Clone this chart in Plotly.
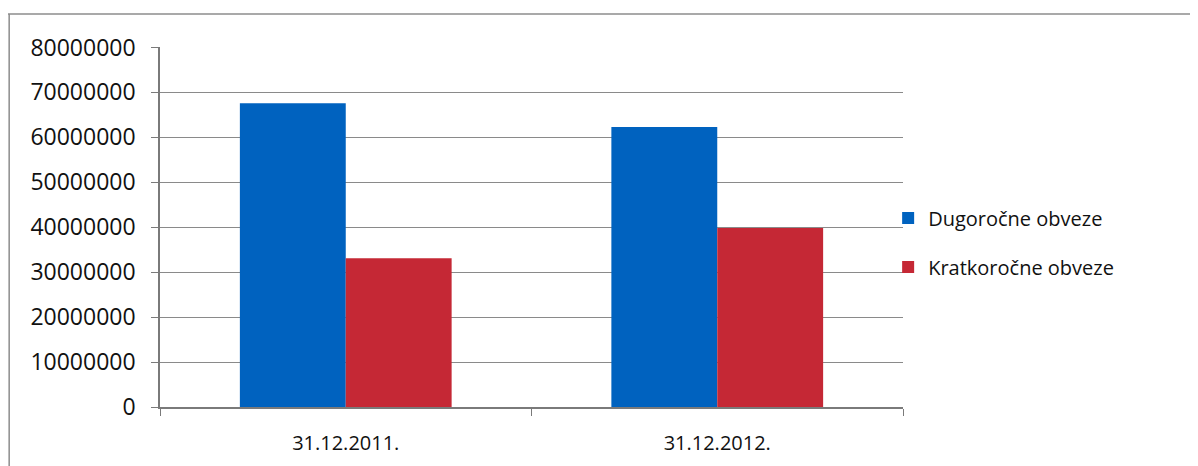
import plotly.graph_objects as go

categories = ["31.12.2011.", "31.12.2012."]
dugorocne = [67600000, 62300000]
kratkorocne = [33100000, 39800000]
tick_vals = [0, 10000000, 20000000, 30000000, 40000000, 50000000, 60000000, 70000000, 80000000]
tick_text = ["0", "10000000", "20000000", "30000000", "40000000", "50000000", "60000000", "70000000", "80000000"]

font_family = "Open Sans, Noto Sans, sans-serif"

fig = go.Figure()
fig.add_trace(go.Bar(x=categories, y=dugorocne, name="Dugoročne obveze",
                     marker=dict(color="#0062BF", line=dict(width=0)), legendgroup="a"))
fig.add_trace(go.Bar(x=categories, y=kratkorocne, name="Kratkoročne obveze",
                     marker=dict(color="#C52835", line=dict(width=0)), legendgroup="b"))

fig.update_layout(
    width=1190, height=458,
    margin=dict(l=152, r=295, t=39, b=59),
    paper_bgcolor="white", plot_bgcolor="white",
    barmode="group", bargap=0.43, bargroupgap=0,
    font=dict(family=font_family, size=21, color="#111111"),
    showlegend=True,
    legend=dict(x=0.98, xanchor="left", y=0.457, yanchor="middle",
                font=dict(size=20, color="#111111"), tracegroupgap=20,
                itemwidth=30, bgcolor="rgba(0,0,0,0)"),
    xaxis=dict(showline=True, linecolor="#7a7a7a", linewidth=1.5,
               ticks="outside", tickson="boundaries", ticklen=7, tickcolor="#7a7a7a",
               tickfont=dict(size=20), showgrid=False, ticklabelstandoff=17,
               automargin=False),
    yaxis=dict(range=[0, 80100000], tickvals=tick_vals, ticktext=tick_text,
               showline=True, linecolor="#7a7a7a", linewidth=1.5,
               ticks="outside", ticklen=7, tickcolor="#7a7a7a",
               showgrid=True, gridcolor="#8a8a8a", gridwidth=1.3,
               zeroline=False, tickfont=dict(size=23), ticklabelstandoff=11,
               automargin=False),
)

# Frame lines of the scanned chart (top and left)
fig.add_shape(type="line", xref="paper", yref="paper", x0=-0.205, x1=1.4, y0=1.092, y1=1.092,
              line=dict(color="#8c8c8c", width=1.5))
fig.add_shape(type="line", xref="paper", yref="paper", x0=-0.203, x1=-0.203, y0=1.092, y1=-0.2,
              line=dict(color="#8c8c8c", width=1.5))

fig.write_html("out.html")
